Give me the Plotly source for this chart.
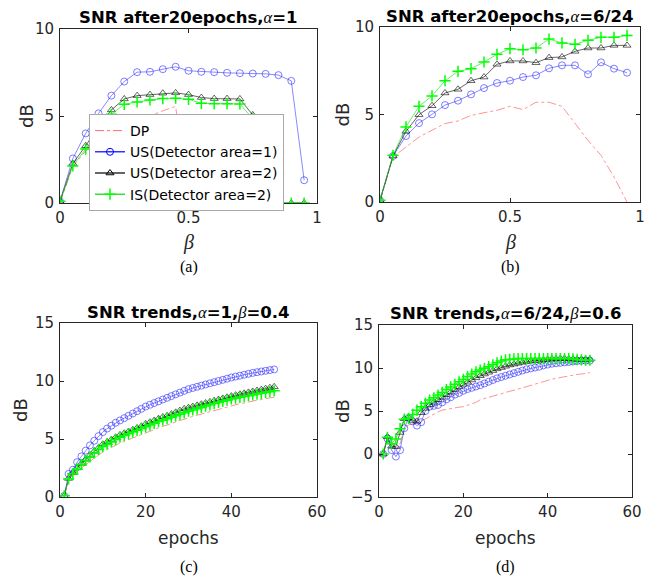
import plotly.graph_objects as go

# ---------------- data ----------------
beta = [0, 0.05, 0.1, 0.15, 0.2, 0.25, 0.3, 0.35, 0.4, 0.45,
        0.5, 0.55, 0.6, 0.65, 0.7, 0.75, 0.8, 0.85, 0.9, 0.95]

# panel (a): SNR after 20 epochs, alpha=1
a_dp  = [0, 2.1, 3.0, 3.5, 3.9, 4.3, 4.7, 5.0, 5.3, 5.55,
         0, 0, 0, 0, 0, 0, 0, 0, 0, 0]
a_us1 = [0.1, 2.56, 4.0, 5.15, 6.17, 6.98, 7.52, 7.54, 7.69, 7.83,
         7.6, 7.54, 7.52, 7.48, 7.46, 7.44, 7.42, 7.35, 7.02, 1.31]
a_us2 = [0.1, 2.27, 3.29, 4.42, 5.35, 5.98, 6.17, 6.23, 6.31, 6.33,
         6.23, 6.06, 6.0, 6.0, 5.98, 5.06, 0, 0, 0, 0]
a_is2 = [0.1, 2.13, 3.1, 4.19, 5.1, 5.67, 5.81, 5.92, 6.0, 6.02,
         5.96, 5.73, 5.71, 5.71, 5.69, 4.85, 0, 0, 0, 0]

# panel (b): SNR after 20 epochs, alpha=6/24
b_dp  = [0, 2.57, 3.14, 3.71, 4.1, 4.48, 4.63, 4.95, 5.1, 5.24,
         5.47, 5.28, 5.7, 5.7, 5.47, 4.48, 3.52, 2.67, 1.43, 0]
b_us1 = [0.1, 2.63, 3.77, 4.51, 5.01, 5.54, 5.79, 6.15, 6.51, 6.8,
         6.93, 7.14, 7.24, 7.64, 7.81, 7.81, 7.3, 7.98, 7.62, 7.39]
b_us2 = [0.1, 2.63, 4.04, 4.99, 5.5, 6.23, 6.44, 6.93, 7.14, 7.87,
         8.06, 8.06, 7.96, 8.25, 8.29, 8.61, 8.8, 8.8, 8.95, 8.95]
b_is2 = [0.1, 2.67, 4.29, 5.47, 6.06, 6.93, 7.47, 7.62, 8.0, 8.44,
         8.76, 8.7, 8.8, 9.31, 9.09, 9.01, 9.24, 9.41, 9.41, 9.52]

epochs = list(range(1, 51))

# panel (c): SNR trends, alpha=1, beta=0.4
c_dp  = [0, 1.5, 1.9, 2.2, 2.5, 2.8, 3.1, 3.35, 3.6, 3.9,
         4.1, 4.3, 4.45, 4.65, 4.8, 4.95, 5.1, 5.25, 5.4, 5.5,
         5.65, 5.8, 5.95, 6.1, 6.2, 6.35, 6.45, 6.6, 6.7, 6.85,
         6.95, 7.05, 7.15, 7.25, 7.4, 7.5, 7.6, 7.7, 7.8, 7.85,
         7.95, 8.05, 8.1, 8.2, 8.25, 8.35, 8.4, 8.5, 8.55, 8.6]
c_us1 = [0.1, 2.0, 2.35, 3.0, 3.5, 4.0, 4.45, 4.85, 5.25, 5.6,
         5.9, 6.15, 6.4, 6.6, 6.8, 7.0, 7.2, 7.4, 7.6, 7.8,
         7.95, 8.1, 8.25, 8.4, 8.55, 8.7, 8.85, 9.0, 9.15, 9.3,
         9.4, 9.5, 9.6, 9.7, 9.8, 9.9, 10.0, 10.1, 10.2, 10.3,
         10.38, 10.46, 10.54, 10.62, 10.7, 10.76, 10.82, 10.88, 10.94, 11.0]
c_us2 = [0.1, 1.6, 2.1, 2.5, 2.9, 3.25, 3.6, 3.95, 4.25, 4.55,
         4.75, 4.95, 5.15, 5.35, 5.5, 5.65, 5.8, 5.95, 6.1, 6.3,
         6.45, 6.6, 6.75, 6.9, 7.0, 7.15, 7.3, 7.45, 7.6, 7.7,
         7.8, 7.9, 8.0, 8.1, 8.2, 8.3, 8.4, 8.5, 8.6, 8.7,
         8.78, 8.86, 8.94, 9.02, 9.1, 9.18, 9.26, 9.34, 9.42, 9.5]
c_is2 = [0.1, 1.55, 2.0, 2.4, 2.8, 3.15, 3.45, 3.8, 4.1, 4.35,
         4.55, 4.75, 4.95, 5.15, 5.3, 5.45, 5.6, 5.75, 5.9, 6.05,
         6.2, 6.35, 6.5, 6.62, 6.75, 6.88, 7.0, 7.13, 7.26, 7.4,
         7.5, 7.6, 7.72, 7.84, 7.95, 8.05, 8.15, 8.25, 8.35, 8.45,
         8.52, 8.59, 8.66, 8.73, 8.8, 8.87, 8.94, 9.01, 9.08, 9.15]

# panel (d): SNR trends, alpha=6/24, beta=0.6
d_dp  = [0, 1.8, 0.8, 0.6, 1.2, 2.9, 3.4, 3.5, 3.6, 3.8,
         4.1, 4.4, 4.7, 4.9, 5.1, 5.2, 5.3, 5.4, 5.45, 5.5,
         5.65, 5.8, 6.0, 6.3, 6.45, 6.6, 6.7, 6.85, 7.0, 7.15,
         7.3, 7.4, 7.55, 7.7, 7.85, 8.0, 8.15, 8.3, 8.45, 8.6,
         8.7, 8.8, 8.9, 9.0, 9.1, 9.2, 9.25, 9.3, 9.4, 9.45]
d_us1 = [0, 1.8, 0.45, -0.3, 0.45, 3.0, 4.2, 3.8, 3.3, 3.7,
         5.0, 5.5, 5.6, 5.7, 6.0, 6.35, 6.6, 6.9, 7.1, 7.35,
         7.55, 7.7, 7.85, 8.0, 8.2, 8.4, 8.6, 8.8, 8.95, 9.1,
         9.25, 9.4, 9.55, 9.7, 9.85, 9.95, 10.05, 10.15, 10.3, 10.4,
         10.5, 10.55, 10.6, 10.65, 10.7, 10.75, 10.8, 10.85, 10.85, 10.85]
d_us2 = [0, 2.0, 0.9, 0.85, 2.5, 4.1, 4.2, 3.9, 3.8, 4.8,
         5.3, 5.7, 6.0, 6.3, 6.6, 6.9, 7.2, 7.5, 7.8, 8.1,
         8.35, 8.6, 8.85, 9.1, 9.3, 9.5, 9.7, 9.9, 10.05, 10.2,
         10.35, 10.45, 10.55, 10.65, 10.72, 10.8, 10.85, 10.9, 10.95, 11.0,
         11.05, 11.05, 11.1, 11.1, 11.05, 11.05, 11.0, 11.0, 11.0, 11.0]
d_is2 = [0, 1.95, 1.2, 1.75, 2.95, 4.05, 4.15, 4.6, 5.1, 5.5,
         5.9, 6.27, 6.54, 6.85, 7.16, 7.5, 7.8, 8.1, 8.4, 8.67,
         9.0, 9.3, 9.55, 9.76, 9.96, 10.15, 10.38, 10.6, 10.8, 10.95,
         11.0, 11.05, 11.1, 11.1, 11.1, 11.1, 11.1, 11.1, 11.1, 11.1,
         11.1, 11.1, 11.1, 11.1, 11.1, 11.05, 11.0, 10.95, 10.9, 10.9]

legend_names = ["DP", "US(Detector area=1)", "US(Detector area=2)", "IS(Detector area=2)"]

GR = "<span style=\"font-family:'Liberation Serif';font-weight:normal\"><i>{}</i></span>"
titles = [
    "SNR after20epochs," + GR.format("α") + "=1",
    "SNR after20epochs," + GR.format("α") + "=6/24",
    "SNR trends," + GR.format("α") + "=1," + GR.format("β") + "=0.4",
    "SNR trends," + GR.format("α") + "=6/24," + GR.format("β") + "=0.6",
]
captions = ["(a)", "(b)", "(c)", "(d)"]

# ---------------- styles ----------------
# The page body has an 8px margin, so the figure is drawn 8px smaller and
# page-pixel positions are converted with that offset.
OFF = 8
W, H = 668 - OFF, 582 - OFF


def fx(px):
    return (px - OFF) / W


def fy(py):
    return 1 - (py - OFF) / H


SANS = "DejaVu Sans, Verdana, sans-serif"
SERIF = "Liberation Serif, Times New Roman, serif"
TXT = "#262626"

styles = [
    dict(line=dict(color="rgba(255,60,60,0.55)", width=1, dash="dashdot"), mode="lines", marker=None),
    dict(line=dict(color="rgba(40,40,255,0.55)", width=1), mode="lines+markers",
         marker=dict(symbol="circle-open", size=7, color="rgba(40,40,255,0.6)", line=dict(width=1))),
    dict(line=dict(color="rgba(0,0,0,0.6)", width=1), mode="lines+markers",
         marker=dict(symbol="triangle-up-open", size=7, color="rgba(0,0,0,0.6)", line=dict(width=1))),
    dict(line=dict(color="rgba(0,230,0,0.6)", width=1), mode="lines+markers",
         marker=dict(symbol="cross-thin-open", size=8, color="#00ff00", line=dict(width=1.5))),
]
legend_styles = [
    dict(line=dict(color="rgb(255,110,110)", width=1, dash="dashdot"), mode="lines", marker=None),
    dict(line=dict(color="#0000ff", width=1.2), mode="lines+markers",
         marker=dict(symbol="circle-open", size=7, color="#0000ff", line=dict(width=1))),
    dict(line=dict(color="#000000", width=1.2), mode="lines+markers",
         marker=dict(symbol="triangle-up-open", size=7, color="#000000", line=dict(width=1))),
    dict(line=dict(color="#00dd00", width=1.2), mode="lines+markers",
         marker=dict(symbol="cross-thin-open", size=8, color="#00ff00", line=dict(width=1.5))),
]

# page-pixel boxes of each axes: left, right, top, bottom
boxes = [(60, 317, 29, 203), (380, 640, 27, 202), (60, 317, 323, 497), (379, 632, 325, 497)]
title_y = [18, 17, 312, 313.5]
ylabel_x = [26, 342, 20, 342]
xranges = [[0, 1], [0, 1], [0, 60], [0, 60]]
yranges = [[0, 10], [0, 10], [0, 15], [-5, 15]]
xtickvals = [[0, 0.5, 1], [0, 0.5, 1], [0, 20, 40, 60], [0, 20, 40, 60]]
ytickvals = [[0, 5, 10], [0, 5, 10], [0, 5, 10, 15], [-5, 0, 5, 10, 15]]

panel_x = [beta, beta, epochs, epochs]
panel_y = [
    [a_dp, a_us1, a_us2, a_is2],
    [b_dp, b_us1, b_us2, b_is2],
    [c_dp, c_us1, c_us2, c_is2],
    [d_dp, d_us1, d_us2, d_is2],
]

fig = go.Figure()

for p in range(4):
    xa = "x" if p == 0 else f"x{p+1}"
    ya = "y" if p == 0 else f"y{p+1}"
    for s in range(4):
        st = styles[s]
        kw = dict(x=panel_x[p], y=panel_y[p][s], mode=st["mode"], line=st["line"],
                  xaxis=xa, yaxis=ya, showlegend=False, hoverinfo="skip")
        if st["marker"] is not None:
            kw["marker"] = st["marker"]
        fig.add_trace(go.Scatter(**kw))

# legend entries (styled like the legend of the reference)
for s in range(4):
    st = legend_styles[s]
    kw = dict(x=[None], y=[None], mode=st["mode"], line=st["line"], name=legend_names[s],
              xaxis="x", yaxis="y", showlegend=True)
    if st["marker"] is not None:
        kw["marker"] = st["marker"]
    fig.add_trace(go.Scatter(**kw))

layout = dict(
    width=W, height=H, margin=dict(l=0, r=0, t=0, b=0, autoexpand=False),
    paper_bgcolor="white", plot_bgcolor="white",
    font=dict(family=SANS, size=15, color=TXT),
    legend=dict(x=fx(89), y=fy(114), xanchor="left", yanchor="top",
                bgcolor="white", bordercolor="#a8a8a8", borderwidth=1,
                font=dict(family=SANS, size=14, color="black"),
                itemwidth=30, tracegroupgap=0),
)

annotations = []
for p in range(4):
    l, r, t, b = boxes[p]
    xk = "xaxis" if p == 0 else f"xaxis{p+1}"
    yk = "yaxis" if p == 0 else f"yaxis{p+1}"
    common = dict(showline=True, linecolor=TXT, linewidth=1, mirror="ticks",
                  ticks="inside", ticklen=4, tickcolor=TXT, showgrid=False, zeroline=False,
                  automargin=False,
                  tickfont=dict(family=SANS, size=15, color=TXT), fixedrange=True)
    layout[xk] = dict(domain=[fx(l), fx(r)], range=xranges[p], tickvals=xtickvals[p],
                      anchor="y" if p == 0 else f"y{p+1}", ticklabelstandoff=1, **common)
    layout[yk] = dict(domain=[fy(b), fy(t)], range=yranges[p], tickvals=ytickvals[p],
                      anchor="x" if p == 0 else f"x{p+1}", ticklabelstandoff=2, **common)
    cx = (l + r) / 2
    # title
    annotations.append(dict(text="<b>" + titles[p] + "</b>", x=fx(cx), y=fy(title_y[p]),
                            xref="paper", yref="paper", showarrow=False,
                            font=dict(family=SANS, size=16.5, color="black"),
                            xanchor="center", yanchor="middle"))
    # y label
    annotations.append(dict(text="dB", x=fx(ylabel_x[p]), y=fy((t + b) / 2), xref="paper", yref="paper",
                            showarrow=False, textangle=-90,
                            font=dict(family=SANS, size=18, color=TXT),
                            xanchor="center", yanchor="middle"))
    # x label
    if p < 2:
        annotations.append(dict(text="<i>β</i>", x=fx(cx), y=fy(242), xref="paper", yref="paper",
                                showarrow=False, font=dict(family=SERIF, size=20, color=TXT),
                                xanchor="center", yanchor="middle"))
        capy = 267
    else:
        annotations.append(dict(text="epochs", x=fx(cx), y=fy(538), xref="paper", yref="paper",
                                showarrow=False, font=dict(family=SANS, size=17, color=TXT),
                                xanchor="center", yanchor="middle"))
        capy = 567
    annotations.append(dict(text=captions[p], x=fx(cx), y=fy(capy), xref="paper", yref="paper",
                            showarrow=False, font=dict(family=SERIF, size=16, color="black"),
                            xanchor="center", yanchor="middle"))

layout["annotations"] = annotations
fig.update_layout(**layout)
fig.write_html("out.html")
